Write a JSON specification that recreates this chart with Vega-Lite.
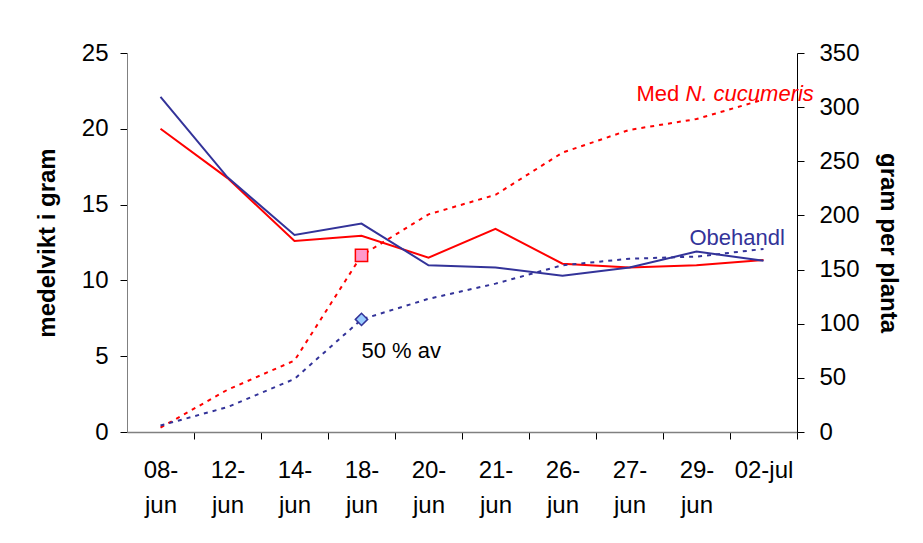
{
  "$schema": "https://vega.github.io/schema/vega-lite/v6.json",
  "width": 670,
  "height": 379,
  "autosize": "none",
  "padding": {"left": 127, "top": 53, "right": 126, "bottom": 111},
  "background": "white",
  "config": {
    "view": {"stroke": null},
    "font": "Liberation Sans",
    "text": {"font": "Liberation Sans", "fontWeight": "normal"},
    "axis": {
      "labelFont": "Liberation Sans",
      "titleFont": "Liberation Sans",
      "labelFontSize": 24,
      "labelColor": "black",
      "titleColor": "black",
      "titleFontSize": 24,
      "titleFontWeight": "bold",
      "tickColor": "black",
      "tickSize": 7,
      "grid": false
    }
  },
  "data": {
    "values": [
      {"d": "08-jun", "s": "Med", "vikt": 20.0, "cum": 4},
      {"d": "12-jun", "s": "Med", "vikt": 16.75, "cum": 39},
      {"d": "14-jun", "s": "Med", "vikt": 12.6, "cum": 66},
      {"d": "18-jun", "s": "Med", "vikt": 12.95, "cum": 163},
      {"d": "20-jun", "s": "Med", "vikt": 11.5, "cum": 201},
      {"d": "21-jun", "s": "Med", "vikt": 13.4, "cum": 219},
      {"d": "26-jun", "s": "Med", "vikt": 11.1, "cum": 258},
      {"d": "27-jun", "s": "Med", "vikt": 10.85, "cum": 279},
      {"d": "29-jun", "s": "Med", "vikt": 11.0, "cum": 289},
      {"d": "02-jul", "s": "Med", "vikt": 11.35, "cum": 307},
      {"d": "08-jun", "s": "Obehandl", "vikt": 22.1, "cum": 6},
      {"d": "12-jun", "s": "Obehandl", "vikt": 16.8, "cum": 23},
      {"d": "14-jun", "s": "Obehandl", "vikt": 13.0, "cum": 49},
      {"d": "18-jun", "s": "Obehandl", "vikt": 13.75, "cum": 104},
      {"d": "20-jun", "s": "Obehandl", "vikt": 11.0, "cum": 123},
      {"d": "21-jun", "s": "Obehandl", "vikt": 10.85, "cum": 137},
      {"d": "26-jun", "s": "Obehandl", "vikt": 10.3, "cum": 154},
      {"d": "27-jun", "s": "Obehandl", "vikt": 10.85, "cum": 160},
      {"d": "29-jun", "s": "Obehandl", "vikt": 11.9, "cum": 162},
      {"d": "02-jul", "s": "Obehandl", "vikt": 11.3, "cum": 169}
    ]
  },
  "layer": [
    {
      "mark": {"type": "line", "strokeWidth": 2},
      "encoding": {
        "x": {
          "field": "d",
          "type": "ordinal",
          "sort": null,
          "scale": {"type": "point", "padding": 0.5},
          "axis": {
            "title": null,
            "labelAngle": 0,
            "domainColor": "#808080",
            "domainWidth": 1.5,
            "tickOffset": 33.5,
            "labelOffset": -33.5,
            "labelPadding": 19,
            "labelLineHeight": 35,
            "labelExpr": "datum.value == '02-jul' ? datum.value : [slice(datum.value, 0, 3), slice(datum.value, 3)]"
          }
        },
        "y": {
          "field": "vikt",
          "type": "quantitative",
          "scale": {"domain": [0, 25], "nice": false},
          "axis": {
            "orient": "left",
            "title": "medelvikt i gram",
            "values": [0, 5, 10, 15, 20, 25],
            "domainColor": "#808080",
            "labelPadding": 12,
            "titlePadding": 22
          }
        },
        "color": {
          "field": "s",
          "type": "nominal",
          "scale": {"domain": ["Med", "Obehandl"], "range": ["#ff0000", "#333399"]},
          "legend": null
        }
      }
    },
    {
      "layer": [
        {
          "mark": {"type": "line", "strokeWidth": 2, "strokeDash": [4, 5]},
          "encoding": {
            "x": {"field": "d", "type": "ordinal", "sort": null},
            "y": {
              "field": "cum",
              "type": "quantitative",
              "scale": {"domain": [0, 350], "nice": false},
              "axis": {
                "orient": "right",
                "title": "gram per planta",
                "values": [0, 50, 100, 150, 200, 250, 300, 350],
                "domainColor": "black",
                "labelPadding": 15,
                "titlePadding": 16
              }
            },
            "color": {
              "field": "s",
              "type": "nominal",
              "scale": {"domain": ["Med", "Obehandl"], "range": ["#ff0000", "#333399"]},
              "legend": null
            }
          }
        },
        {
          "transform": [{"filter": "datum.d == '18-jun'"}],
          "mark": {"type": "point", "filled": false, "strokeWidth": 1.5, "opacity": 1, "size": 150},
          "encoding": {
            "x": {"field": "d", "type": "ordinal", "sort": null},
            "y": {"field": "cum", "type": "quantitative"},
            "shape": {"field": "s", "type": "nominal", "scale": {"domain": ["Med", "Obehandl"], "range": ["square", "diamond"]}, "legend": null},
            "fill": {"field": "s", "type": "nominal", "scale": {"domain": ["Med", "Obehandl"], "range": ["#ff99cc", "#99ccff"]}, "legend": null},
            "color": {"field": "s", "type": "nominal", "legend": null}
          }
        },
        {
          "data": {"values": [{}]},
          "mark": {"type": "text", "text": "Med", "fontSize": 22, "fontWeight": "normal", "color": "#ff0000", "align": "left", "baseline": "alphabetic", "dx": -60},
          "encoding": {"x": {"datum": "29-jun", "type": "ordinal"}, "y": {"datum": 306, "type": "quantitative"}}
        },
        {
          "data": {"values": [{}]},
          "mark": {"type": "text", "text": "N. cucumeris", "fontSize": 22, "fontWeight": "normal", "fontStyle": "italic", "color": "#ff0000", "align": "left", "baseline": "alphabetic", "dx": -11},
          "encoding": {"x": {"datum": "29-jun", "type": "ordinal"}, "y": {"datum": 306, "type": "quantitative"}}
        },
        {
          "data": {"values": [{}]},
          "mark": {"type": "text", "text": "Obehandl", "fontSize": 22, "fontWeight": "normal", "color": "#333399", "align": "left", "baseline": "alphabetic", "dx": -7},
          "encoding": {"x": {"datum": "29-jun", "type": "ordinal"}, "y": {"datum": 173, "type": "quantitative"}}
        },
        {
          "data": {"values": [{}]},
          "mark": {"type": "text", "text": "50 % av", "fontSize": 22, "fontWeight": "normal", "color": "black", "align": "left", "baseline": "alphabetic", "dx": 0},
          "encoding": {"x": {"datum": "18-jun", "type": "ordinal"}, "y": {"datum": 68, "type": "quantitative"}}
        }
      ]
    }
  ],
  "resolve": {"scale": {"y": "independent"}}
}
